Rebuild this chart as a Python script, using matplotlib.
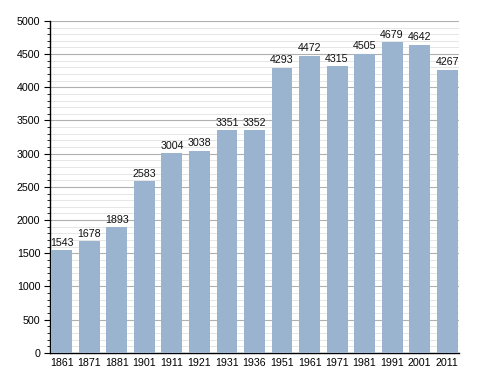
import matplotlib
matplotlib.use("Agg")
import matplotlib.pyplot as plt
from matplotlib.ticker import MultipleLocator

years = ["1861", "1871", "1881", "1901", "1911", "1921", "1931", "1936",
         "1951", "1961", "1971", "1981", "1991", "2001", "2011"]
population = [1543, 1678, 1893, 2583, 3004, 3038, 3351, 3352,
              4293, 4472, 4315, 4505, 4679, 4642, 4267]

plt.rcParams['font.family'] = ['Liberation Sans', 'DejaVu Sans']

fig = plt.figure(figsize=(4.88, 3.73), dpi=100)
ax = fig.add_axes([0.1025, 0.054, 0.838, 0.89])

x = list(range(len(years)))
bars = ax.bar(x, population, width=0.76, color="#9ab3cf", zorder=3)
for xi, v in zip(x, population):
    ax.text(xi, v + 40, str(v), ha="center", va="bottom", fontsize=7.7,
            color="#111111", zorder=4)

ax.set_xlim(-0.43, len(years) - 0.57)
ax.set_ylim(0, 5000)
ax.yaxis.set_major_locator(MultipleLocator(500))
ax.yaxis.set_minor_locator(MultipleLocator(100))
ax.grid(which="major", axis="y", color="#b0b0b0", linewidth=0.8, zorder=0)
ax.grid(which="minor", axis="y", color="#e6e6e6", linewidth=0.7, zorder=0)

ax.set_xticks(x)
ax.set_xticklabels(years)
ax.tick_params(axis="x", length=0, labelsize=7.7, pad=4)
ax.tick_params(axis="y", which="major", length=4, labelsize=7.7, pad=3)
ax.tick_params(axis="y", which="minor", length=2)

for s in ["top", "right"]:
    ax.spines[s].set_visible(False)
ax.spines["left"].set_linewidth(1.0)
ax.spines["bottom"].set_linewidth(1.0)

plt.savefig("out.png", dpi=100)
